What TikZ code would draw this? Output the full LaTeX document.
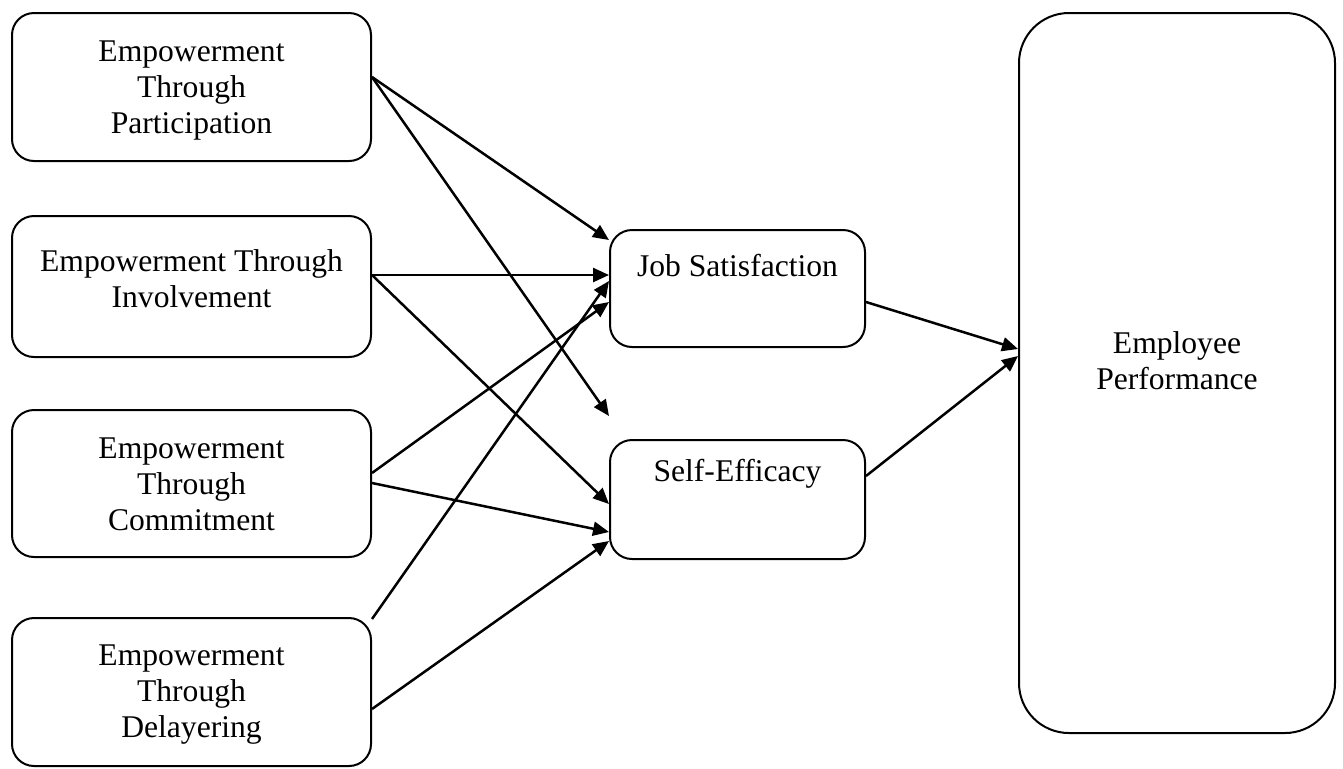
\documentclass[tikz,border=0pt]{standalone}
\usepackage{fontspec}
\setmainfont{Liberation Serif}
\usetikzlibrary{arrows.meta,calc}
\begin{document}
\begin{tikzpicture}[x=0.5pt,y=-0.5pt,
  box/.style={draw,line width=1pt,rounded corners=11pt,inner sep=0pt},
  txt/.style={align=center,font=\fontsize{15.8}{18}\selectfont,inner sep=0pt},
  arr/.style={line width=1.25pt,-{Triangle[length=8pt,width=7pt]}}]
\useasboundingbox (0,0) rectangle (1343,768);
% boxes
\node[box,minimum width=179.5pt,minimum height=74pt] (p) at (191.5,87) {};
\node[box,minimum width=179.5pt,minimum height=70.5pt] (i) at (191.5,286.5) {};
\node[box,minimum width=179.5pt,minimum height=73.5pt] (c) at (191.5,483.5) {};
\node[box,minimum width=179.5pt,minimum height=74pt] (d) at (191.5,692) {};
\node[box,minimum width=127.5pt,minimum height=58.5pt] (js) at (737.5,288.5) {};
\node[box,minimum width=127.5pt,minimum height=59.5pt] (se) at (737.5,499.5) {};
\node[box,rounded corners=25pt,minimum width=158pt,minimum height=360pt] (ep) at (1177,373) {};
% texts
\node[txt] (pt) at ($(p.north)+(0,79)$) {Empowerment\\Through\\Participation};
\node[txt] (it) at ($(i.north)+(0,64)$) {Empowerment Through\\Involvement};
\node[txt] (ct) at ($(c.north)+(0,75)$) {Empowerment\\Through\\Commitment};
\node[txt] (dt) at ($(d.north)+(0,78)$) {Empowerment\\Through\\Delayering};
\node[txt] (jst) at ($(js.north)+(0,37)$) {Job Satisfaction};
\node[txt] (set) at ($(se.north)+(0,35)$) {Self-Efficacy};
\node[txt] (ept) at ($(ep.north)+(0,349)$) {Employee\\Performance};
% free arrow end
\coordinate (free) at ($(se.north west)+(0,-23)$);
% connectors
\draw[arr] ($(p.north east)+(0,65)$) -- ($(js.north west)+(0,11)$);
\draw[arr] ($(p.north east)+(0,65)$) -- (free);
\draw[arr] ($(i.north east)+(0,60)$) -- ($(js.north west)+(0,46)$);
\draw[arr] ($(i.north east)+(0,60)$) -- ($(se.north west)+(0,65)$);
\draw[arr] ($(c.north east)+(0,64)$) -- ($(js.north west)+(0,73)$);
\draw[arr] ($(c.north east)+(0,74)$) -- ($(se.north west)+(0,93)$);
\draw[arr] ($(d.north east)+(0,2)$) -- ($(js.north west)+(0,52)$);
\draw[arr] ($(d.north east)+(0,92)$) -- ($(se.north west)+(0,102)$);
\draw[arr] ($(js.north east)+(0,73)$) -- ($(ep.north west)+(0,337)$);
\draw[arr] ($(se.north east)+(0,37)$) -- ($(ep.north west)+(0,344)$);
\end{tikzpicture}
\end{document}
